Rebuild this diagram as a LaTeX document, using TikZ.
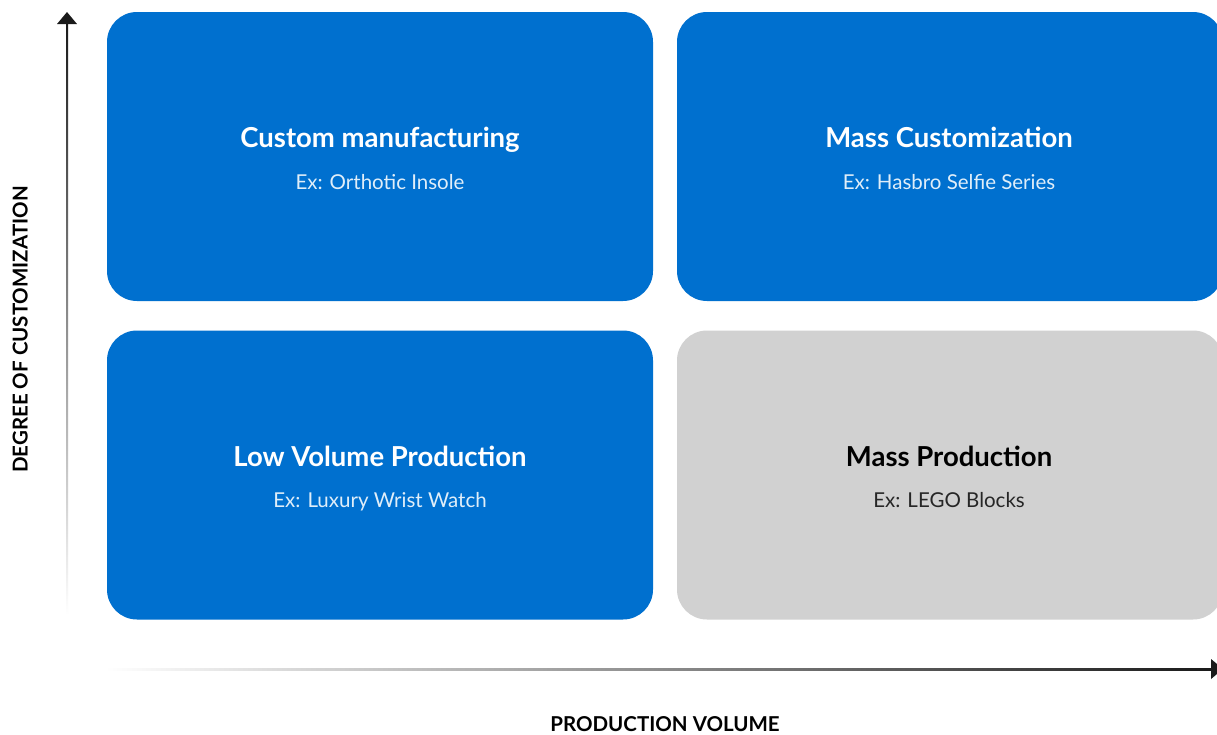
\documentclass[tikz,border=0pt]{standalone}
\usepackage{fontspec}
\setmainfont{Lato}
\usetikzlibrary{shapes.geometric}
\definecolor{qblue}{HTML}{0070CF}
\definecolor{qgray}{HTML}{D1D1D1}
\definecolor{axisdark}{HTML}{1A1A1A}
\begin{document}
\begin{tikzpicture}[x=1pt,y=-1pt,
  quad/.style={rounded corners=30pt, minimum width=546pt, minimum height=289pt, inner sep=0pt, draw=none},
  qtitle/.style={anchor=base, inner sep=0pt, font=\fontsize{27.5}{30}\selectfont\bfseries},
  qsub/.style={anchor=base, inner sep=0pt, font=\fontsize{20.5}{23}\selectfont},
  axlabel/.style={inner sep=0pt, font=\fontsize{20.5}{23}\selectfont\bfseries, text=black}]
\clip (0,0) rectangle (1217,734);
\fill[white] (0,0) rectangle (1217,734);
% quadrants
\node[quad, fill=qblue] (tl) at (380,156.5) {};
\node[quad, fill=qblue] (tr) at (950,156.5) {};
\node[quad, fill=qblue] (bl) at (380,475) {};
\node[quad, fill=qgray] (br) at (950,475) {};
% texts
\node[qtitle, text=white] (tlt) at (380,147) {Custom manufacturing};
\node[qsub, text=white!88!qblue] (tls) at (380,189) {Ex: Orthotic Insole};
\node[qtitle, text=white] (trt) at (949,147) {Mass Customization};
\node[qsub, text=white!88!qblue] (trs) at (949,189) {Ex: Hasbro Selfie Series};
\node[qtitle, text=white] (blt) at (380,466) {Low Volume Production};
\node[qsub, text=white!88!qblue] (bls) at (380,507) {Ex: Luxury Wrist Watch};
\node[qtitle, text=black] (brt) at (949,466) {Mass Production};
\node[qsub, text=black!85] (brs) at (949,507) {Ex: LEGO Blocks};
% axes
\coordinate (ybot) at (67,615);
\coordinate (ytop) at (67,22);
\coordinate (xleft) at (105,669);
\coordinate (xright) at (1211,669);
\shade[top color=axisdark, bottom color=white] (66,22) rectangle (68.2,615);
\shade[left color=white, right color=axisdark] (105,668) rectangle (1211,670.2);
\fill[axisdark] (67,12) -- (77,24) -- (57,24) -- cycle;
\fill[axisdark] (1223,669) -- (1211,659) -- (1211,679) -- cycle;
% axis labels
\node[axlabel, rotate=90, anchor=base] (ylab) at (27.5,329.5) {DEGREE OF CUSTOMIZATION};
\node[axlabel, anchor=base] (xlab) at (665,731) {PRODUCTION VOLUME};
\end{tikzpicture}
\end{document}
